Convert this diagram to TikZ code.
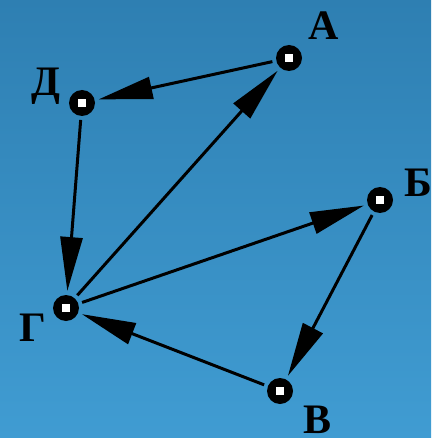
\documentclass[tikz,border=0pt]{standalone}
\usepackage{fontspec}
\setmainfont{Liberation Serif}
\usetikzlibrary{arrows.meta}
\definecolor{bgtop}{RGB}{46,127,178}
\definecolor{bgbot}{RGB}{64,156,210}
\tikzset{
  vert/.style={circle, fill=black, minimum size=26pt, inner sep=0pt, outer sep=4pt,
    path picture={\fill[white] ([shift={(-4pt,-4pt)}]path picture bounding box.center) rectangle ([shift={(4pt,4pt)}]path picture bounding box.center);}},
  lbl/.style={font=\bfseries\fontsize{42}{42}\selectfont, inner sep=0pt},
  edge/.style={line width=3pt, -{Triangle[length=54pt,width=22pt]}}
}
\begin{document}
\begin{tikzpicture}[x=1pt,y=-1pt]
\useasboundingbox (0,0) rectangle (431,438);
\shade[top color=bgtop, bottom color=bgbot] (0,0) rectangle (431,438);
\node[vert] (A) at (289,58) {};
\node[vert] (D) at (82,103) {};
\node[vert] (B) at (380,200) {};
\node[vert] (G) at (66,308) {};
\node[vert] (V) at (280,391) {};
\node[lbl] (lA) at (324,26) {А};
\node[lbl] (lD) at (46,86) {Д};
\node[lbl] (lB) at (418,183) {Б};
\node[lbl] (lG) at (33,328) {Г};
\node[lbl] (lV) at (318,420) {В};
\draw[edge] (A) -- (D);
\draw[edge] (D) -- (G);
\draw[edge] (G) -- (A);
\draw[edge] (G) -- (B);
\draw[edge] (B) -- (V);
\draw[edge] (V) -- (G);
\end{tikzpicture}
\end{document}
